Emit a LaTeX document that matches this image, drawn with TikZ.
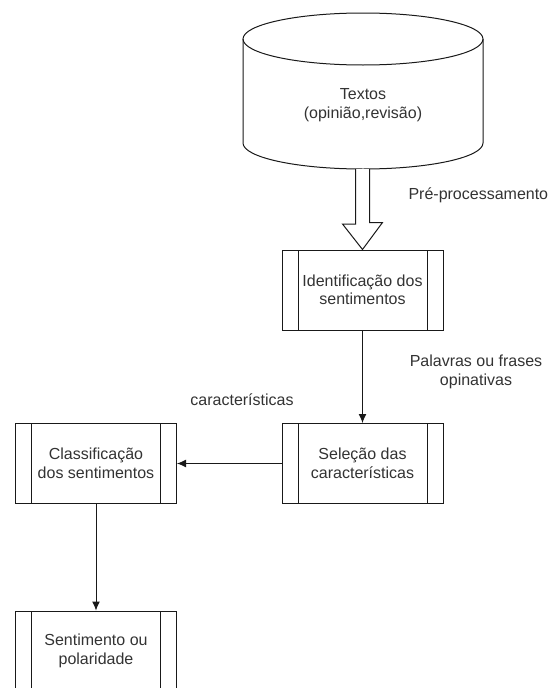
\documentclass[tikz,border=0pt]{standalone}
\usepackage{fontspec}
\setmainfont{Liberation Sans}
\usetikzlibrary{arrows.meta}

\definecolor{textgray}{RGB}{51,51,51}

\begin{document}
\begin{tikzpicture}[x=1pt,y=-1pt,
  proc_node/.style={rectangle,draw=black!90,line width=1pt,minimum width=161pt,minimum height=80pt,
    align=center,text=textgray,font=\fontsize{16}{18.5}\selectfont,
    path picture={\draw[black!90,line width=1pt] ([xshift=16pt]path picture bounding box.north west) -- ([xshift=16pt]path picture bounding box.south west);
      \draw[black!90,line width=1pt] ([xshift=-16pt]path picture bounding box.north east) -- ([xshift=-16pt]path picture bounding box.south east);}},
  label_node/.style={align=center,text=textgray,font=\fontsize{16}{18.5}\selectfont},
  arr/.style={-{Latex[length=9pt,width=8pt]},line width=1pt,draw=black!90}]
\fill[white] (0,0) rectangle (547,688);
\useasboundingbox (0,0) rectangle (547,688);
% cylinder
\draw[black!90,line width=1pt] (363,39) ellipse [x radius=120pt,y radius=26pt];
\draw[black!90,line width=1pt] (243,39) -- (243,143) arc [start angle=180,end angle=360,x radius=120pt,y radius=26pt] -- (483,39);
	\node[label_node] (1) at (363,105) {Textos\\(opinião,revisão)};
	\coordinate (cb) at (362.5,169);
    \node[proc_node] (2) at (362.5,290) {Identificação dos\\sentimentos};
    \node[proc_node] (3) at (362.5,463.5) {Seleção das\\características};
    \node[proc_node] (4) at (96,463.5) {Classificação\\dos sentimentos};
    \node[proc_node] (5) at (96,651) {Sentimento ou\\polaridade};
    \node[label_node,anchor=west] (6) at (405,195) {Pré-processamento};
    \node[label_node] (7) at (476,372) {Palavras ou frases\\opinativas};
    \node[label_node] (8) at (242,400) {características};
\draw[black!90,line width=1pt,fill=white] ([xshift=-7pt]cb) -- ++(0,55) -- ++(-13,0) -- (2.north) -- ([xshift=20pt,yshift=27pt]2.north) -- ([xshift=7pt,yshift=27pt]2.north) -- ([xshift=7pt]cb);
\draw[arr] (2) -- (3);
\draw[arr] (3) -- (4);
\draw[arr] (4) -- (5);
\end{tikzpicture}
\end{document}
